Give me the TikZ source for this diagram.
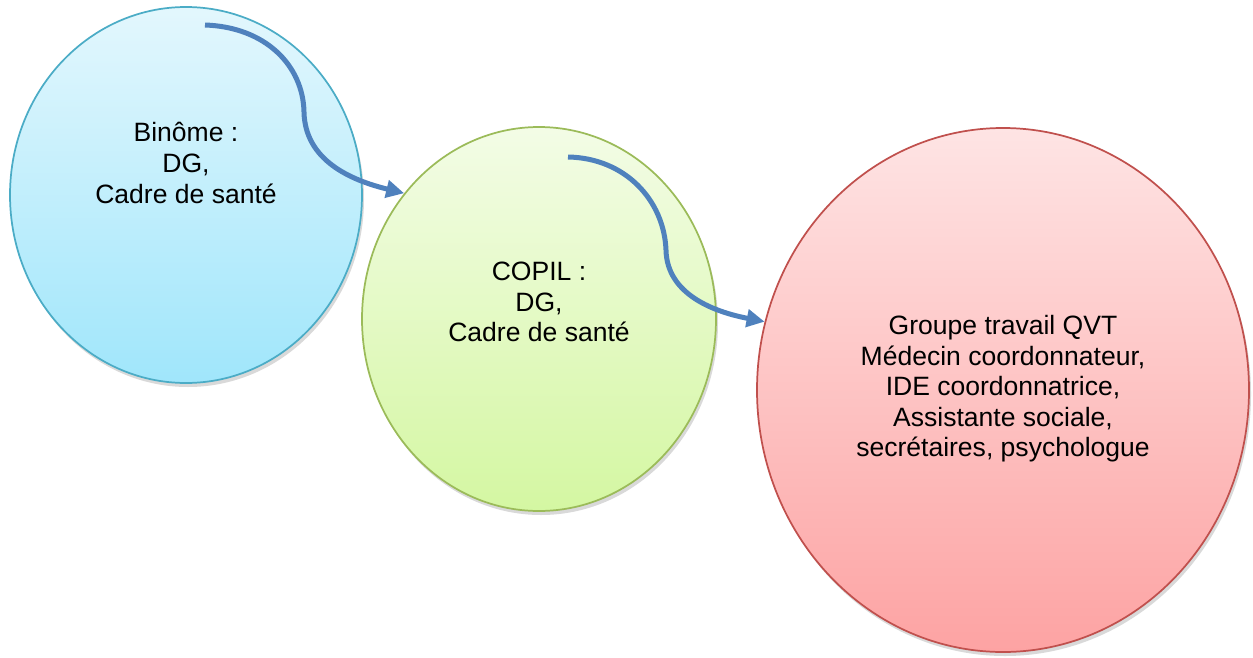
\documentclass[tikz,border=0pt]{standalone}
\usepackage{fontspec}
\setmainfont{Liberation Sans}
\usetikzlibrary{shapes.geometric,arrows.meta,shadows}
\definecolor{bluetop}{HTML}{E3F7FD}
\definecolor{bluebot}{HTML}{A0E6FB}
\definecolor{blueline}{HTML}{4BACC6}
\definecolor{greentop}{HTML}{F3FCE6}
\definecolor{greenbot}{HTML}{D4F7A2}
\definecolor{greenline}{HTML}{9BBB59}
\definecolor{redtop}{HTML}{FEE4E4}
\definecolor{redbot}{HTML}{FDA3A3}
\definecolor{redline}{HTML}{C0504D}
\definecolor{arrowblue}{HTML}{4F81BD}
\tikzset{
  bubble/.style={ellipse, inner sep=0pt, line width=1.3pt,
    drop shadow={shadow xshift=1.5pt, shadow yshift=-3pt, opacity=0.25, fill=black!60}},
  bubbletext/.style={align=center, font=\fontsize{19.9}{22.9}\selectfont, text=black},
  flow/.style={draw=arrowblue, line width=3.75pt,
    -{Triangle[length=13.5pt, width=13pt]}}
}
\begin{document}
\begin{tikzpicture}[x=0.75pt, y=-0.75pt]
\useasboundingbox (0,0) rectangle (1253,657);
\node[bubble, draw=blueline, top color=bluetop, bottom color=bluebot,
  minimum width=264pt, minimum height=282pt] (binome) at (186,195) {};
\node[bubble, draw=greenline, top color=greentop, bottom color=greenbot,
  minimum width=265.5pt, minimum height=288pt] (copil) at (539,319) {};
\node[bubble, draw=redline, top color=redtop, bottom color=redbot,
  minimum width=369pt, minimum height=393pt] (groupe) at (1003,390) {};
\node[bubbletext] (t1) at (186,163) {Binôme :\\DG,\\Cadre de santé};
\node[bubbletext] (t2) at (539,302) {COPIL :\\DG,\\Cadre de santé};
\node[bubbletext] (t3) at (1003,389) {Groupe travail QVT\\Médecin coordonnateur,\\IDE coordonnatrice,\\Assistante sociale,\\secrétaires, psychologue};
\coordinate (s1) at (205,25);
\coordinate (m1) at (304,112);
\coordinate (s2) at (568,157);
\coordinate (m2) at (666,250);
\draw[flow] (s1) .. controls (265,27) and (303,65) .. (m1)
  .. controls (305,160) and (350,180) .. (copil.137);
\draw[flow] (s2) .. controls (625,158) and (664,200) .. (m2)
  .. controls (667,295) and (715,312) .. (groupe.164.6);
\end{tikzpicture}
\end{document}
